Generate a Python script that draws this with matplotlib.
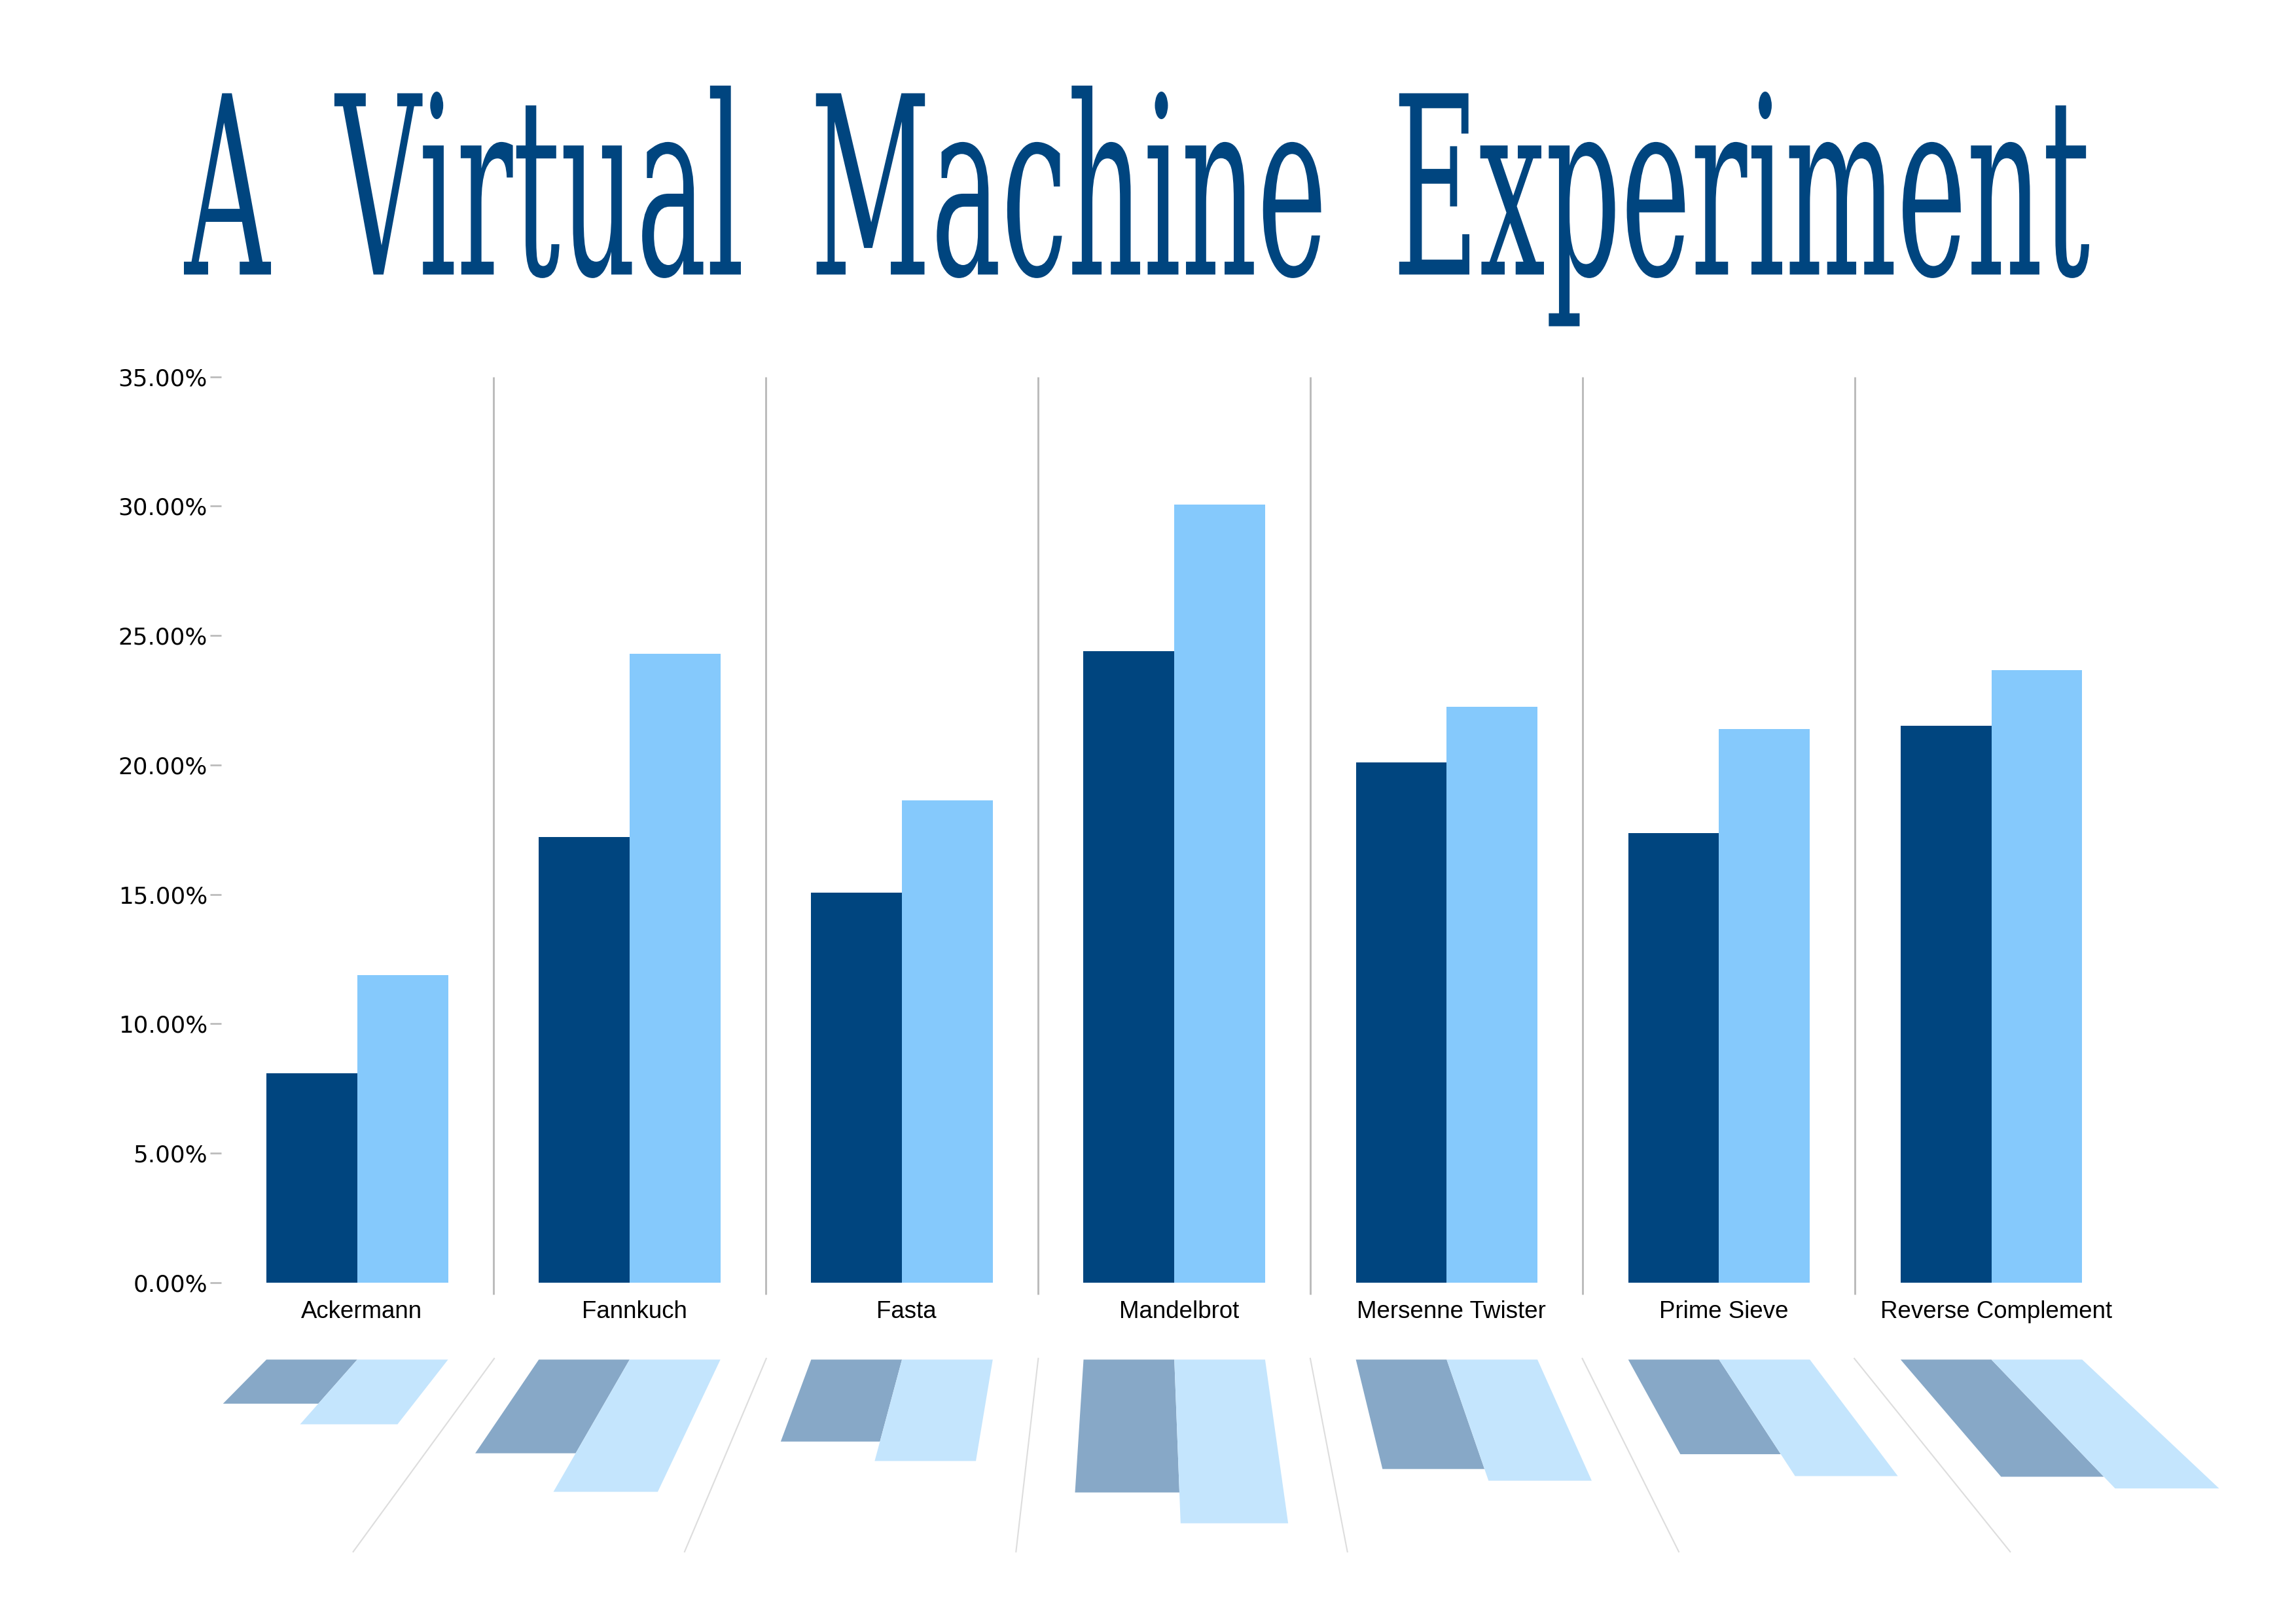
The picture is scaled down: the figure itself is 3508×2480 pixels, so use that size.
import matplotlib
matplotlib.use("Agg")
import matplotlib.pyplot as plt
import numpy as np
from matplotlib.patches import Polygon
from matplotlib.patheffects import AbstractPathEffect
from matplotlib.transforms import Affine2D, ScaledTranslation
from matplotlib.ticker import PercentFormatter
from matplotlib.textpath import TextToPath
from matplotlib.font_manager import FontProperties
from matplotlib.path import Path

# ---------------- data ----------------
categories = ["Ackermann", "Fannkuch", "Fasta", "Mandelbrot",
              "Mersenne Twister", "Prime Sieve", "Reverse Complement"]
series_a = [8.10, 17.21, 15.06, 24.41, 20.10, 17.38, 21.52]   # dark blue
series_b = [11.89, 24.29, 18.63, 30.07, 22.25, 21.40, 23.67]  # light blue
y_ticks = [0, 5, 10, 15, 20, 25, 30, 35]
title_text = "A Virtual Machine Experiment"

DARK = "#00457F"
LIGHT = "#85C9FC"
DARK_R = "#87A8C7"
LIGHT_R = "#C4E5FD"

FW, FH, DPI = 3508, 2480, 300
fig = plt.figure(figsize=(FW / DPI, FH / DPI), dpi=DPI)
fig.patch.set_facecolor("white")

ax_left, ax_right = 337.8 / FW, 3250.6 / FW
ax_bottom, ax_top = 1 - 1960 / FH, 1 - 575.7 / FH
ax = fig.add_axes([ax_left, ax_bottom, ax_right - ax_left, ax_top - ax_bottom])

n = len(categories)
x = np.arange(n)
bw = 1 / 3
ax.bar(x - bw / 2, series_a, width=bw, color=DARK, linewidth=0)
ax.bar(x + bw / 2, series_b, width=bw, color=LIGHT, linewidth=0)

ax.set_xlim(-0.5, n - 0.5)
ax.set_ylim(0, 35)
for s in ax.spines.values():
    s.set_visible(False)
ax.set_yticks(y_ticks)
ax.yaxis.set_major_formatter(PercentFormatter(decimals=2))
ax.tick_params(axis="y", length=4.0, width=0.65, color="#BBBBBB", pad=1.0,
               labelsize=8.6, labelcolor="black")
ax.set_xticks(x)
ax.set_xticklabels(categories, family="Liberation Sans")
ax.tick_params(axis="x", length=0, pad=6.4, labelsize=8.8, labelcolor="black")
shift = ScaledTranslation(1.7 / 72, 0, fig.dpi_scale_trans)
for lab in ax.get_xticklabels():
    lab.set_transform(lab.get_transform() + shift)

seps = np.arange(n - 1) + 0.5
ax.vlines(seps, -0.45, 35, colors="#BBBBBB", linewidth=0.7, clip_on=False)

# ---------------- reflection (floor) ----------------
r_top = 1 - 929 / 1109
r_bot = 1 - 1059.2 / 1109
axr = fig.add_axes([ax_left, r_bot, ax_right - ax_left, r_top - r_bot])
axr.set_xlim(-0.5, n - 0.5)
axr.set_ylim(35, 0)
axr.axis("off")

xc, k = 2.875, 0.215


def proj(xv, v):
    return xv + (xv - xc) * k * v / 35.0, v


def refl_bar(x0, x1, v, color):
    pts = [proj(x0, 0), proj(x1, 0), proj(x1, v), proj(x0, v)]
    axr.add_patch(Polygon(pts, closed=True, facecolor=color, edgecolor="none",
                          clip_on=False))


for i in range(n):
    refl_bar(x[i] - bw, x[i], series_a[i], DARK_R)
    refl_bar(x[i], x[i] + bw, series_b[i], LIGHT_R)

for sx in seps:
    p0 = proj(sx, -0.2)
    p1 = proj(sx, 35.3)
    axr.plot([p0[0], p1[0]], [p0[1], p1[1]], color="#DDDDDD", linewidth=0.5,
             clip_on=False)

# ---------------- title (real text, reshaped at render time) ----------------
TITLE_FAMILY = "DejaVu Serif"
t2p = TextToPath()
fp_unit = FontProperties(family=TITLE_FAMILY, size=t2p.FONT_SCALE)


def width_u(s):
    if not s:
        return 0.0
    return t2p.get_text_width_height_descent(s, fp_unit, ismath=False)[0]


space_idx = [i for i, ch in enumerate(title_text) if ch == " "]
thresholds = [(width_u(title_text[:i]) + width_u(title_text[:i + 1])) / 2
              for i in space_idx]

# reference word ink extents (px, full size) and layout targets
ref_words = [(281, 419), (516, 1150), (1256, 2031), (2140, 3192)]
ref_cap_px = 277.0
ref_baseline_px = 419.5

verts0, codes0 = t2p.get_text_path(fp_unit, title_text)
verts0 = np.asarray(verts0, float)
widx0 = np.searchsorted(thresholds, verts0[:, 0])
nat_words = []
for j in range(len(ref_words)):
    vx = verts0[widx0 == j, 0]
    nat_words.append((vx.min(), vx.max()))
nat_ww = sum(b - a for a, b in nat_words)
ref_ww = sum(b - a for a, b in ref_words)
KX = ref_ww / nat_ww                       # px per font unit, horizontal
nat_gaps = [nat_words[j + 1][0] - nat_words[j][1] for j in range(len(nat_words) - 1)]
ref_gaps = [ref_words[j + 1][0] - ref_words[j][1] for j in range(len(ref_words) - 1)]
EXTRA = float(np.mean([rg / KX - ng for rg, ng in zip(ref_gaps, nat_gaps)]))
h_verts = np.asarray(t2p.get_text_path(fp_unit, "H")[0], float)
cap_u = h_verts[:, 1].max()
KY = ref_cap_px / cap_u


class Reshape(AbstractPathEffect):
    def __init__(self, text):
        super().__init__()
        self.text = text

    def draw_path(self, renderer, gc, tpath, affine, rgbFace=None):
        v = np.array(tpath.vertices, float)
        idx = np.searchsorted(thresholds, v[:, 0])
        v[:, 0] = v[:, 0] + EXTRA * idx
        xmin = v[:, 0].min()
        fig_ = self.text.figure
        sc = fig_.dpi / DPI
        left_px = ref_words[0][0] / FW * fig_.bbox.width
        base_px = (1 - ref_baseline_px / FH) * fig_.bbox.height
        aff = Affine2D().translate(-xmin, 0).scale(KX * sc, KY * sc).translate(left_px, base_px)
        renderer.draw_path(gc, Path(v, tpath.codes), aff, rgbFace)


center_x = (ref_words[0][0] + ref_words[-1][1]) / 2 / FW
title = fig.text(center_x, 1 - ref_baseline_px / FH, title_text, ha="center",
                 va="baseline", fontsize=46, family=TITLE_FAMILY, color=DARK)
title.set_path_effects([Reshape(title)])

fig.savefig("out.png", dpi=DPI, facecolor="white")
